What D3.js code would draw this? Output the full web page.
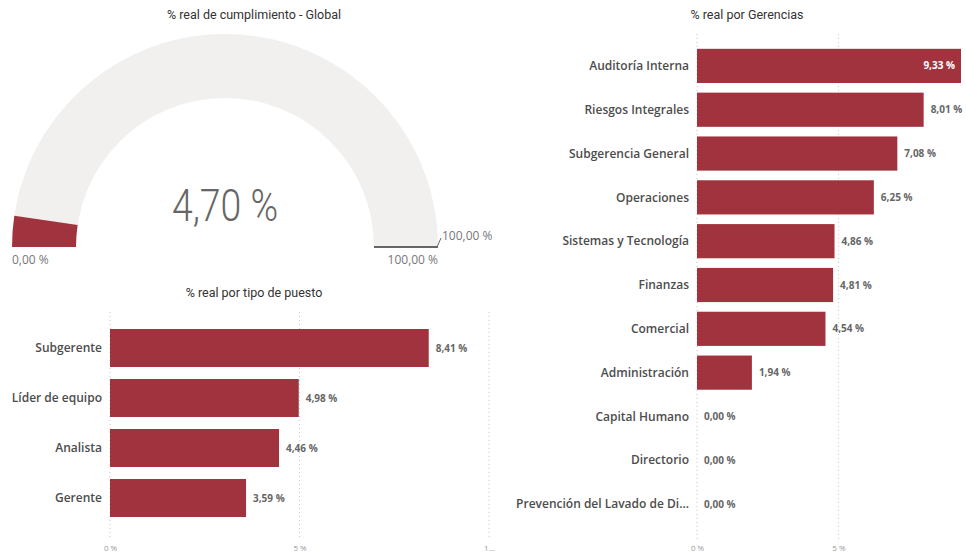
<!DOCTYPE html>
<html>
<head>
<meta charset="utf-8">
<script src="https://cdn.jsdelivr.net/npm/d3@7"></script>
<style>
  body { margin: 0; background: #fff; }
  svg { display: block; }
</style>
</head>
<body>
<div id="chart-container"></div>
<script>
// gauge
const gaugeValue = 4.70;
const gaugeMin = 0;
const gaugeMax = 100;
const gaugeTarget = 100;

// % real por tipo de puesto
const puestos = ["Subgerente", "Líder de equipo", "Analista", "Gerente"];
const puestoValues = [8.41, 4.98, 4.46, 3.59];
const puestoTicks = [0, 5, 10];
const puestoTickLabels = ["0 %", "5 %", "1..."];

// % real por Gerencias
const gerencias = [
  "Auditoría Interna", "Riesgos Integrales", "Subgerencia General", "Operaciones",
  "Sistemas y Tecnología", "Finanzas", "Comercial", "Administración",
  "Capital Humano", "Directorio", "Prevención del Lavado de Di..."
];
const gerenciaValues = [9.33, 8.01, 7.08, 6.25, 4.86, 4.81, 4.54, 1.94, 0, 0, 0];
const gerenciaTicks = [0, 5];
const gerenciaTickLabels = ["0 %", "5 %"];

const width = 966;
const height = 560;
const barColor = "#A1333E";
const titleFont = "Roboto, 'Noto Sans', sans-serif";
const labelFont = "'Open Sans', 'Noto Sans', sans-serif";

const fmt = (v) => v.toFixed(2).replace(".", ",") + " %";

const svg = d3
  .select("#chart-container")
  .append("svg")
  .attr("width", width)
  .attr("height", height);

svg.append("rect").attr("width", width).attr("height", height).attr("fill", "#fff");

function title(x, y, txt) {
  svg
    .append("text")
    .attr("x", x)
    .attr("y", y)
    .attr("text-anchor", "middle")
    .style("font-family", titleFont)
    .style("font-size", "12.5px")
    .style("fill", "#333")
    .text(txt);
}

// ---------- gauge ----------
title(254, 19, "% real de cumplimiento - Global");

const cx = 225, cy = 247, rOuter = 213, rInner = 149;
const angle = d3.scaleLinear().domain([gaugeMin, gaugeMax]).range([-Math.PI / 2, Math.PI / 2]);
const arc = d3.arc().innerRadius(rInner).outerRadius(rOuter);

const gauge = svg.append("g").attr("transform", `translate(${cx},${cy})`);
gauge
  .append("path")
  .attr("d", arc({ startAngle: angle(gaugeMin), endAngle: angle(gaugeMax) }))
  .attr("fill", "#F1F0EF");
gauge
  .append("path")
  .attr("d", arc({ startAngle: angle(gaugeMin), endAngle: angle(gaugeValue) }))
  .attr("fill", barColor);

// target marker
const ta = angle(gaugeTarget);
const tx = (r) => r * Math.sin(ta);
const ty = (r) => -r * Math.cos(ta);
gauge
  .append("line")
  .attr("x1", tx(rInner)).attr("y1", ty(rInner))
  .attr("x2", tx(rOuter)).attr("y2", ty(rOuter))
  .attr("stroke", "#666").attr("stroke-width", 2);
gauge
  .append("line")
  .attr("x1", tx(rOuter) - 1).attr("y1", ty(rOuter))
  .attr("x2", tx(rOuter) + 3).attr("y2", ty(rOuter) - 9)
  .attr("stroke", "#666").attr("stroke-width", 1);
gauge
  .append("text")
  .attr("x", tx(rOuter) + 4).attr("y", ty(rOuter) - 7)
  .style("font-family", labelFont).style("font-size", "12px").style("fill", "#777")
  .text(fmt(gaugeTarget));

// big value, squeezed a bit to look like the condensed original
gauge
  .append("text")
  .attr("transform", "translate(0,-26) scale(0.85,1)")
  .attr("text-anchor", "middle")
  .style("font-family", titleFont).style("font-weight", 300)
  .style("font-size", "44px").style("fill", "#666")
  .text(fmt(gaugeValue));

gauge
  .append("text")
  .attr("x", -rOuter).attr("y", 17)
  .style("font-family", labelFont).style("font-size", "12px").style("fill", "#777")
  .text(fmt(gaugeMin));
gauge
  .append("text")
  .attr("x", rOuter).attr("y", 17)
  .attr("text-anchor", "end")
  .style("font-family", labelFont).style("font-size", "12px").style("fill", "#777")
  .text(fmt(gaugeMax));

// ---------- horizontal bar chart helper ----------
function barChart(opts) {
  const g = svg.append("g");
  const x = d3.scaleLinear().domain(opts.domain).range(opts.xRange);
  const y = d3
    .scaleBand()
    .domain(opts.cats)
    .range(opts.yRange)
    .paddingInner(opts.padding)
    .paddingOuter(opts.padding / 2);

  // dotted gridlines
  g.append("g")
    .selectAll("line")
    .data(opts.ticks)
    .enter()
    .append("line")
    .attr("x1", (d) => x(d)).attr("x2", (d) => x(d))
    .attr("y1", opts.gridTop).attr("y2", opts.gridBottom)
    .attr("stroke", "#C8C8C8")
    .attr("stroke-width", 1)
    .attr("stroke-dasharray", "1,3");

  // x axis labels
  const axis = g
    .append("g")
    .attr("transform", `translate(0, ${opts.axisY})`)
    .call(
      d3.axisBottom(x)
        .tickValues(opts.ticks)
        .tickSize(0)
        .tickFormat((d, i) => opts.tickLabels[i])
    );
  axis.select(".domain").remove();
  axis
    .selectAll("text")
    .style("font-family", labelFont)
    .style("font-size", "8px")
    .style("fill", "#999");

  const data = opts.cats.map((c, i) => ({ cat: c, value: opts.values[i] }));

  g.append("g")
    .selectAll("rect")
    .data(data)
    .enter()
    .append("rect")
    .attr("x", x(0))
    .attr("y", (d) => y(d.cat))
    .attr("width", (d) => x(d.value) - x(0))
    .attr("height", y.bandwidth())
    .attr("fill", barColor);

  // category labels
  g.append("g")
    .selectAll("text")
    .data(data)
    .enter()
    .append("text")
    .attr("x", x(0) - 8)
    .attr("y", (d) => y(d.cat) + y.bandwidth() / 2)
    .attr("dy", "0.35em")
    .attr("text-anchor", "end")
    .style("font-family", labelFont)
    .style("font-weight", 600)
    .style("font-size", opts.catSize)
    .style("fill", "#4d4d4d")
    .text((d) => d.cat);

  // value labels
  g.append("g")
    .selectAll("text")
    .data(data)
    .enter()
    .append("text")
    .attr("x", (d) => (d.value >= opts.insideFrom ? x(d.value) - 6 : x(d.value) + 7))
    .attr("y", (d) => y(d.cat) + y.bandwidth() / 2)
    .attr("dy", "0.35em")
    .attr("text-anchor", (d) => (d.value >= opts.insideFrom ? "end" : "start"))
    .style("font-family", labelFont)
    .style("font-weight", 700)
    .style("font-size", "10px")
    .style("fill", (d) => (d.value >= opts.insideFrom ? "#fff" : "#666"))
    .text((d) => fmt(d.value));
}

// ---------- % real por tipo de puesto ----------
title(254, 297, "% real por tipo de puesto");
barChart({
  cats: puestos,
  values: puestoValues,
  domain: [0, 10],
  xRange: [110, 489],
  yRange: [323, 523],
  padding: 0.24,
  ticks: puestoTicks,
  tickLabels: puestoTickLabels,
  gridTop: 312,
  gridBottom: 540,
  axisY: 542,
  catSize: "12px",
  insideFrom: 99
});

// ---------- % real por Gerencias ----------
title(747, 19, "% real por Gerencias");
barChart({
  cats: gerencias,
  values: gerenciaValues,
  domain: [0, 9.33],
  xRange: [697, 961],
  yRange: [44, 526],
  padding: 0.22,
  ticks: gerenciaTicks,
  tickLabels: gerenciaTickLabels,
  gridTop: 34,
  gridBottom: 540,
  axisY: 542,
  catSize: "12px",
  insideFrom: 9
});
</script>
</body>
</html>
